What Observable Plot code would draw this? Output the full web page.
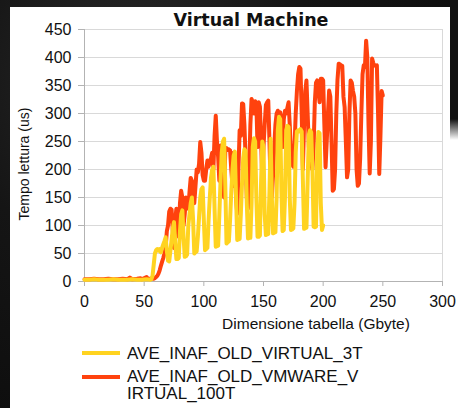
<!DOCTYPE html>
<html>
<head>
<meta charset="utf-8">
<script src="https://cdn.jsdelivr.net/npm/d3@7"></script>
<script src="https://cdn.jsdelivr.net/npm/@observablehq/plot@0.6"></script>
<style>
  html, body { margin: 0; padding: 0; }
  body { width: 458px; height: 408px; overflow: hidden; position: relative;
         background: radial-gradient(circle at 30% 20%, #2a2a2a 0%, #151515 40%, #0a0a0a 100%); }
  #panel { position: absolute; left: 10px; top: 7px; width: 448px; height: 401px; background: #fff; }
  #rightstrip { position: absolute; left: 450px; top: 0; width: 8px; height: 140px;
                background: linear-gradient(to bottom, #111 0%, #111 85%, rgba(17,17,17,0) 100%); }
  .abs { position: absolute; white-space: nowrap; color: #111; }
  #title { font-family: "DejaVu Sans"; font-weight: bold; font-size: 17.5px; line-height: normal; }
  #xlabel { font-family: "Liberation Sans"; font-size: 15.5px; line-height: normal; }
  #ylabel { font-family: "Liberation Sans"; font-size: 14px; line-height: normal; }
  .leg { font-family: "Liberation Sans"; font-size: 17px; line-height: 16.7px; }
  .sw { position: absolute; width: 38px; height: 4px; }
  #chart { position: absolute; left: 10px; top: 7px; }
</style>
</head>
<body>
<div id="panel"></div>
<div id="rightstrip"></div>
<div id="chart"></div>
<script>
const chartTitle = "Virtual Machine";
const xTitle = "Dimensione tabella (Gbyte)";
const yTitle = "Tempo lettura (us)";
const seriesNames = ["AVE_INAF_OLD_VIRTUAL_3T", "AVE_INAF_OLD_VMWARE_VIRTUAL_100T"];
const seriesColors = ["#ffd320", "#ff420e"];
const xTicks = [0, 50, 100, 150, 200, 250, 300];
const yTicks = [0, 50, 100, 150, 200, 250, 300, 350, 400, 450];

// [table size (GB), read time (us)]
const virtual3T = [
[0,3],[4,3],[8,4],[12,3],[16,3],[20,3],[24,4],[28,3],[32,3],[36,3],[40,4],[44,3],[48,3],[52,4],[55,3],
[56,4],[57,10],[58,30],[59,50],[60,56],[61,58],[62,55],[63,58],[64,52],[65,60],[66,66],[67,72],[68,79],[69,55],
[70,37],[71,36],[72,55],[73,75],[74,95],[75,106],[76,70],[77,40],[78,40],[79,42],[80,90],[81,120],[82,127],[83,80],
[84,44],[85,45],[86,48],[87,100],[88,120],[89,140],[90,150],[91,110],[92,50],[93,52],[94,54],[95,80],[96,115],
[97,150],[98,165],[99,168],[100,110],[101,56],[102,58],[103,60],[104,110],[105,150],[106,185],[107,200],[108,205],
[109,130],[110,62],[111,63],[112,64],[113,120],[114,180],[115,230],[116,250],[117,255],[118,170],[119,68],[120,70],
[121,72],[122,110],[123,160],[124,200],[125,225],[126,232],[127,150],[128,74],[129,75],[130,76],[131,120],[132,175],
[133,220],[134,236],[135,233],[136,140],[137,77],[138,78],[139,78],[140,140],[141,240],[142,256],[143,250],[144,150],
[145,80],[146,80],[147,82],[148,180],[149,250],[150,240],[151,120],[152,83],[153,84],[154,85],[155,160],[156,255],
[157,150],[158,86],[159,87],[160,88],[161,150],[162,270],[163,294],[164,290],[165,160],[166,90],[167,92],[168,150],
[169,270],[170,278],[171,276],[172,150],[173,92],[174,93],[175,95],[176,140],[177,230],[178,268],[179,270],[180,268],
[181,272],[182,268],[183,180],[184,94],[185,95],[186,96],[187,180],[188,262],[189,270],[190,266],[191,200],[192,98],
[193,97],[194,98],[195,230],[196,267],[197,265],[198,140],[199,92],[200,100]
];

const vmware100T = [
[0,4],[4,4],[8,5],[12,4],[16,4],[20,5],[24,4],[28,4],[32,5],[36,4],[38,7],[40,4],[44,5],[47,6],[48,4],[52,8],[53,5],[55,5],
[56,5],[57,5],[58,5],[59,6],[60,8],[61,10],[62,14],[63,20],[64,28],[65,35],[66,42],[67,50],[68,60],[69,90],[70,100],
[71,125],[72,130],[73,128],[74,90],[75,60],[76,110],[77,130],[78,128],[79,80],[80,140],[81,162],[82,150],[83,100],
[84,120],[85,150],[86,140],[87,130],[88,160],[89,185],[90,180],[91,150],[92,140],[93,170],[94,200],[95,195],[96,210],
[97,249],[98,230],[99,190],[100,180],[101,180],[102,200],[103,216],[104,205],[105,215],[106,220],[107,230],[108,200],
[109,260],[110,296],[111,250],[112,222],[113,180],[114,243],[115,240],[116,200],[117,150],[118,236],[119,238],[120,235],
[121,236],[122,234],[123,200],[124,170],[125,230],[126,215],[127,150],[128,121],[129,200],[130,270],[131,260],[132,318],
[133,317],[134,280],[135,220],[136,150],[137,130],[138,200],[139,280],[140,326],[141,320],[142,300],[143,322],[144,318],
[145,240],[146,320],[147,312],[148,250],[149,180],[150,240],[151,280],[152,315],[153,320],[154,323],[155,250],[156,170],
[157,150],[158,190],[159,240],[160,280],[161,300],[162,305],[163,300],[164,302],[165,280],[166,240],[167,290],[168,305],
[169,300],[170,310],[171,320],[172,280],[173,230],[174,210],[175,205],[176,240],[177,300],[178,340],[179,370],[180,383],
[181,380],[182,300],[183,200],[184,280],[185,340],[186,359],[187,300],[188,240],[189,235],[190,210],[191,200],[192,240],
[193,320],[194,355],[195,359],[196,340],[197,320],[198,362],[199,362],[200,359],[201,280],[202,204],[203,250],[204,300],
[205,341],[206,330],[207,250],[208,162],[209,165],[210,200],[211,300],[212,360],[213,389],[214,388],[215,386],[216,385],
[217,330],[218,311],[219,250],[220,186],[221,200],[222,300],[223,359],[224,355],[225,340],[226,330],[227,300],[228,200],
[229,171],[230,175],[231,220],[232,300],[233,370],[234,386],[235,383],[236,430],[237,400],[238,280],[239,193],[240,250],
[241,398],[242,390],[243,386],[244,385],[245,386],[246,300],[247,192],[248,260],[249,340],[250,332]
];

const axisGray = "#b3b3b3";
const gridGray = "#d9d9d9";

const plot = Plot.plot({
  width: 448,
  height: 328,
  marginLeft: 74,
  marginRight: 16,
  marginTop: 22,
  marginBottom: 54,
  style: { background: "transparent", fontFamily: "Liberation Sans", fontSize: "16px", color: "#111", overflow: "visible" },
  x: { domain: [0, 300] },
  y: { domain: [0, 450] },
  marks: [
    Plot.gridY(yTicks, { stroke: gridGray, strokeOpacity: 1 }),
    Plot.ruleX([300], { stroke: gridGray }),
    Plot.ruleY([0], { stroke: axisGray }),
    Plot.ruleX([0], { stroke: axisGray }),
    Plot.axisX(xTicks, { tickSize: 5, tickPadding: 9, stroke: axisGray, label: null }),
    Plot.axisY(yTicks, { tickSize: 6, tickPadding: 7, stroke: axisGray, label: null }),
    Plot.line(vmware100T, { x: d => d[0], y: d => d[1], stroke: seriesColors[1], strokeWidth: 4, strokeLinejoin: "round" }),
    Plot.line(virtual3T, { x: d => d[0], y: d => d[1], stroke: seriesColors[0], strokeWidth: 4, strokeLinejoin: "round" })
  ]
});
document.getElementById("chart").appendChild(plot);

function addText(id, cls, text, left, top, transform) {
  const el = document.createElement("div");
  if (id) el.id = id;
  el.className = "abs " + (cls || "");
  el.innerHTML = text;
  el.style.left = left + "px";
  el.style.top = top + "px";
  if (transform) el.style.transform = transform;
  document.body.appendChild(el);
  return el;
}
addText("title", "", chartTitle, 251, 9.8, "translateX(-50%)");
addText("xlabel", "", xTitle, 316, 315.4, "translateX(-50%)");
addText("ylabel", "", yTitle, 24, 164, "translate(-50%,-50%) rotate(-90deg)");

// legend
const legTops = [345.5, 368.8];
const swTops = [351, 374.5];
seriesNames.forEach((name, i) => {
  const sw = document.createElement("div");
  sw.className = "sw";
  sw.style.left = "82px";
  sw.style.top = swTops[i] + "px";
  sw.style.background = seriesColors[i];
  document.body.appendChild(sw);
  const label = name.length > 21 && i === 1 ? name.slice(0, 21) + "<br>" + name.slice(21) : name;
  addText(null, "leg", label, 127, legTops[i]);
});
</script>
</body>
</html>
